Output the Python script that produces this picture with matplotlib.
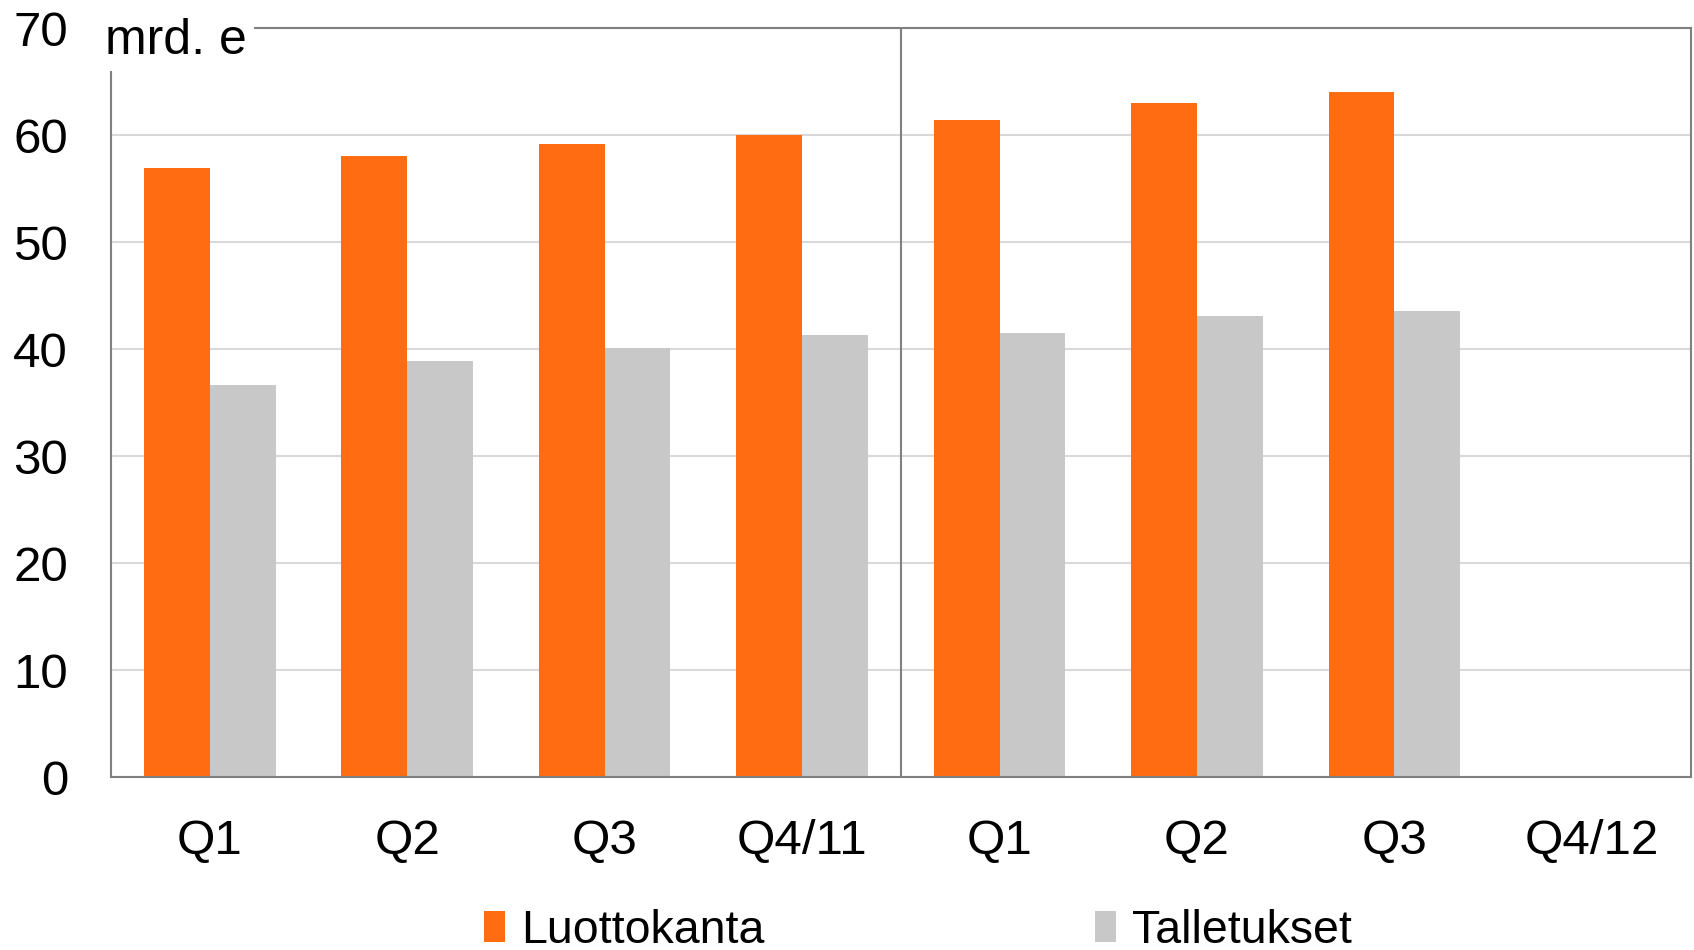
import matplotlib.pyplot as plt
import numpy as np

plt.rcParams['font.family'] = ['Liberation Sans', 'DejaVu Sans']

categories = ['Q1', 'Q2', 'Q3', 'Q4/11', 'Q1', 'Q2', 'Q3', 'Q4/12']
luottokanta = [56.9, 58.0, 59.2, 60.0, 61.4, 63.0, 64.0, np.nan]
talletukset = [36.6, 38.9, 40.1, 41.3, 41.5, 43.1, 43.6, np.nan]

orange = '#FF6C12'
grey = '#C8C8C8'
spine_col = '#808080'

fig = plt.figure(figsize=(16.94, 9.5), dpi=100)
ax = fig.add_axes([0.0655, 0.182, 0.9325, 0.7885])

x = np.arange(len(categories))
w = 1 / 3
ax.bar(x - w / 2, luottokanta, w, color=orange, label='Luottokanta', zorder=2)
ax.bar(x + w / 2, talletukset, w, color=grey, label='Talletukset', zorder=2)

ax.set_xlim(-0.5, len(categories) - 0.5)
ax.set_ylim(0, 70)
ax.set_yticks(range(0, 71, 10))
ax.set_xticks(x)
ax.set_xticklabels(categories)
ax.tick_params(axis='both', length=0, labelsize=35.5)
ax.tick_params(axis='y', pad=31)
ax.tick_params(axis='x', pad=30)

ax.yaxis.grid(True, color='#D9D9D9', lw=1.5, zorder=0)
ax.set_axisbelow(True)
for s in ax.spines.values():
    s.set_color(spine_col)
    s.set_linewidth(1.5)
ax.axvline(3.5, color=spine_col, lw=1.5, zorder=1)

fig.text(105 / 1694, 1 - 41 / 950, 'mrd. e', fontsize=36, ha='left', va='center',
         bbox=dict(facecolor='white', edgecolor='none', pad=5), zorder=5)

fig.legend(loc='center', bbox_to_anchor=(0.542, 0.0205), ncol=2, frameon=False,
           fontsize=33.5, handlelength=0.45, handleheight=0.65, handletextpad=0.35,
           columnspacing=7.1, borderaxespad=0)

fig.savefig('out.png', dpi=100)
